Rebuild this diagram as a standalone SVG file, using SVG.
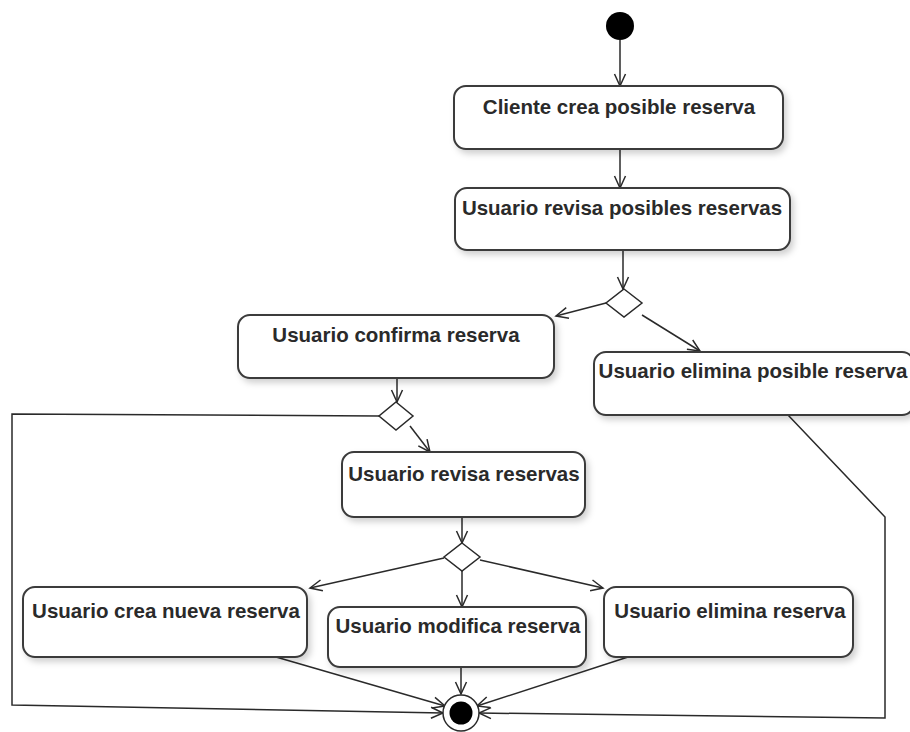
<svg xmlns="http://www.w3.org/2000/svg" width="910" height="732" viewBox="0 0 910 732">
  <style>
    .action { fill: #ffffff; stroke: #3a3a3a; stroke-width: 2; filter: url(#shadow); }
    .label { font-family: "Liberation Sans", Arial, sans-serif; font-weight: bold; font-size: 20.5px; fill: #2a2a2a; text-anchor: middle; }
    .decision { fill: #ffffff; stroke: #2a2a2a; stroke-width: 1.5; }
    .flow { fill: none; stroke: #2a2a2a; stroke-width: 1.5; marker-end: url(#open-arrow); }
  </style>
  <defs>
    <filter id="shadow" x="-10%" y="-20%" width="130%" height="160%">
      <feDropShadow dx="3" dy="4" stdDeviation="3" flood-color="#000000" flood-opacity="0.18"/>
    </filter>
    <marker id="open-arrow" markerUnits="userSpaceOnUse" markerWidth="18" markerHeight="18" refX="13" refY="7" orient="auto">
      <path d="M1,1.5 L13,7 L1,12.5" fill="none" stroke="#2a2a2a" stroke-width="1.5"/>
    </marker>
  </defs>

  <rect width="910" height="732" fill="#ffffff"/>

  <!-- control flows -->
  <g id="connectors">
    <line class="flow" x1="620" y1="40" x2="620" y2="86"/>
    <line class="flow" x1="620" y1="149" x2="620" y2="188"/>
    <line class="flow" x1="623" y1="250" x2="623" y2="289"/>
    <line class="flow" x1="606" y1="303" x2="556" y2="316"/>
    <line class="flow" x1="642" y1="315" x2="700" y2="351"/>
    <line class="flow" x1="397" y1="378" x2="397" y2="402"/>
    <line class="flow" x1="410" y1="426" x2="430" y2="452"/>
    <polyline class="flow" points="379,416 12,414 12,705 443,713"/>
    <polyline class="flow" points="788,415 885,517 885,718 479,713"/>
    <line class="flow" x1="462" y1="517" x2="462" y2="543"/>
    <line class="flow" x1="444" y1="558" x2="310" y2="588"/>
    <line class="flow" x1="462" y1="571" x2="462" y2="607"/>
    <line class="flow" x1="480" y1="560" x2="603" y2="588"/>
    <line class="flow" x1="276" y1="657" x2="445" y2="706"/>
    <line class="flow" x1="461" y1="667" x2="461" y2="694"/>
    <line class="flow" x1="628" y1="657" x2="477" y2="706"/>
  </g>

  <g id="inicio">
    <circle cx="620" cy="26" r="14" fill="#000000"/>
  </g>

  <g id="cliente-crea">
    <rect class="action" x="454" y="86" width="329" height="63" rx="12"/>
    <text class="label" x="619" y="114">Cliente crea posible reserva</text>
  </g>

  <g id="revisa-posibles">
    <rect class="action" x="455" y="188" width="335" height="62" rx="12"/>
    <text class="label" x="622" y="215">Usuario revisa posibles reservas</text>
  </g>

  <g id="decision-1">
    <polygon class="decision" points="624,289 642,303 624,317 606,303"/>
  </g>

  <g id="confirma">
    <rect class="action" x="238" y="315" width="316" height="63" rx="12"/>
    <text class="label" x="396" y="342">Usuario confirma reserva</text>
  </g>

  <g id="elimina-posible">
    <rect class="action" x="594" y="352" width="320" height="63" rx="12"/>
    <text class="label" x="753" y="378">Usuario elimina posible reserva</text>
  </g>

  <g id="decision-2">
    <polygon class="decision" points="396,402 413,416 396,430 379,416"/>
  </g>

  <g id="revisa-reservas">
    <rect class="action" x="342" y="452" width="243" height="65" rx="12"/>
    <text class="label" x="464" y="481">Usuario revisa reservas</text>
  </g>

  <g id="decision-3">
    <polygon class="decision" points="462,543 480,557 462,571 444,557"/>
  </g>

  <g id="crea-nueva">
    <rect class="action" x="23" y="587" width="284" height="70" rx="12"/>
    <text class="label" x="166" y="618">Usuario crea nueva reserva</text>
  </g>

  <g id="modifica">
    <rect class="action" x="328" y="607" width="258" height="60" rx="12"/>
    <text class="label" x="458" y="633">Usuario modifica reserva</text>
  </g>

  <g id="elimina-reserva">
    <rect class="action" x="604" y="587" width="249" height="70" rx="12"/>
    <text class="label" x="730" y="618">Usuario elimina reserva</text>
  </g>

  <g id="fin">
    <circle cx="461" cy="713" r="18" fill="#ffffff" stroke="#2a2a2a" stroke-width="1.5"/>
    <circle cx="461" cy="713" r="11.5" fill="#000000"/>
  </g>
</svg>
